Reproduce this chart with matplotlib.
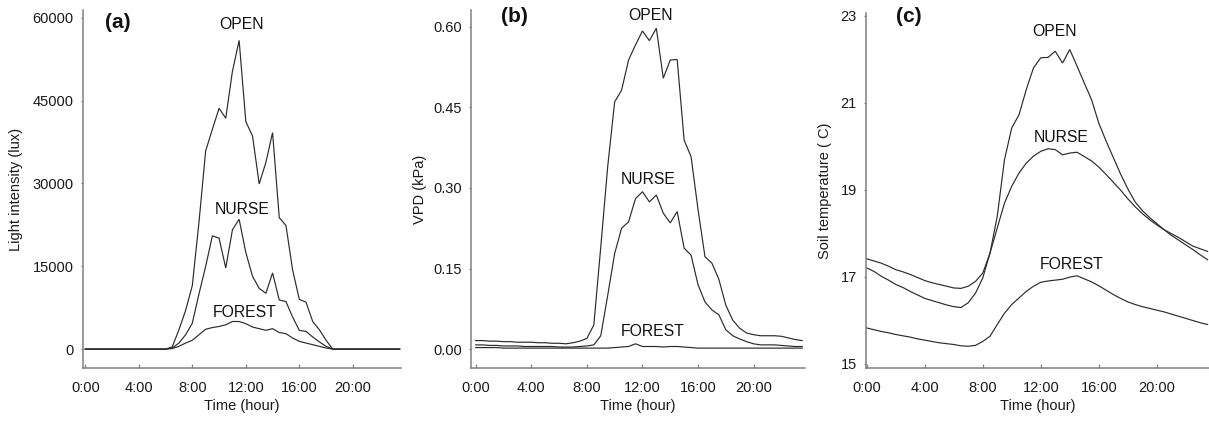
import matplotlib
matplotlib.use("Agg")
import matplotlib.pyplot as plt
import numpy as np

plt.rcParams['font.family'] = ['Liberation Sans', 'DejaVu Sans']

# time of day (hours), half-hour steps
hours = np.arange(0, 24, 0.5)
xtick_pos = [0, 4, 8, 12, 16, 20]
xtick_labels = ["0:00", "4:00", "8:00", "12:00", "16:00", "20:00"]

# (a) light intensity (lux)
light_open = [0, 0, 0, 0, 0, 0, 0, 0, 0, 0, 0, 0, 0,
              400, 3500, 7000, 11500, 23000, 35900, 39800, 43600, 41800, 50300, 55900,
              41200, 38600, 29900, 33800, 39200, 23800, 22400, 14300, 9000, 8500,
              5000, 3500, 1600, 0,
              0, 0, 0, 0, 0, 0, 0, 0, 0, 0]
light_nurse = [0, 0, 0, 0, 0, 0, 0, 0, 0, 0, 0, 0, 0,
               200, 1100, 2600, 4700, 10000, 15000, 20500, 20100, 14700, 21600, 23500,
               17500, 13200, 11000, 10100, 13800, 8900, 8600, 5800, 3400, 3200,
               2200, 1300, 500, 0,
               0, 0, 0, 0, 0, 0, 0, 0, 0, 0]
light_forest = [0, 0, 0, 0, 0, 0, 0, 0, 0, 0, 0, 0, 0,
                100, 500, 1100, 1600, 2600, 3600, 3900, 4100, 4400, 5000, 5000,
                4600, 4000, 3700, 3400, 3700, 3000, 2800, 2000, 1400, 1100,
                800, 500, 200, 0,
                0, 0, 0, 0, 0, 0, 0, 0, 0, 0]
light_ticks = [0, 15000, 30000, 45000, 60000]

# (b) VPD (kPa)
vpd_open = [0.016, 0.016, 0.015, 0.015, 0.014, 0.014, 0.013, 0.013, 0.013, 0.012,
            0.012, 0.011, 0.011, 0.010, 0.012, 0.015, 0.020, 0.045, 0.19, 0.34,
            0.46, 0.482, 0.538, 0.566, 0.592, 0.574, 0.597, 0.504, 0.538, 0.539,
            0.389, 0.358, 0.26, 0.172, 0.160, 0.130, 0.082, 0.054, 0.039, 0.030,
            0.027, 0.025, 0.025, 0.025, 0.024, 0.021, 0.018, 0.016]
vpd_nurse = [0.008, 0.008, 0.007, 0.007, 0.006, 0.006, 0.006, 0.005, 0.005, 0.005,
             0.005, 0.005, 0.004, 0.004, 0.004, 0.005, 0.006, 0.008, 0.025, 0.10,
             0.178, 0.225, 0.237, 0.280, 0.293, 0.274, 0.287, 0.253, 0.235, 0.256,
             0.188, 0.175, 0.120, 0.088, 0.073, 0.064, 0.036, 0.025, 0.019, 0.014,
             0.010, 0.008, 0.008, 0.008, 0.007, 0.006, 0.005, 0.005]
vpd_forest = [0.003, 0.003, 0.003, 0.003, 0.002, 0.002, 0.002, 0.002, 0.002, 0.002,
              0.002, 0.002, 0.002, 0.002, 0.002, 0.002, 0.002, 0.002, 0.002, 0.002,
              0.003, 0.004, 0.005, 0.010, 0.005, 0.005, 0.005, 0.004, 0.005, 0.005,
              0.004, 0.003, 0.002, 0.002, 0.002, 0.002, 0.002, 0.002, 0.002, 0.002,
              0.002, 0.002, 0.002, 0.002, 0.002, 0.002, 0.002, 0.002]
vpd_ticks = [0.00, 0.15, 0.30, 0.45, 0.60]

# (c) soil temperature
soil_open = [17.41, 17.36, 17.31, 17.24, 17.16, 17.11, 17.05, 16.98, 16.91, 16.86,
             16.82, 16.78, 16.74, 16.73, 16.78, 16.89, 17.08, 17.54, 18.39, 19.69,
             20.42, 20.72, 21.30, 21.80, 22.03, 22.04, 22.18, 21.91, 22.22, 21.84,
             21.45, 21.07, 20.53, 20.12, 19.74, 19.36, 19.02, 18.72, 18.52, 18.36,
             18.22, 18.08, 17.95, 17.84, 17.73, 17.62, 17.50, 17.39]
soil_nurse = [17.20, 17.12, 17.01, 16.92, 16.82, 16.75, 16.66, 16.58, 16.50, 16.45,
              16.40, 16.35, 16.31, 16.29, 16.40, 16.62, 16.97, 17.54, 18.12, 18.69,
              19.08, 19.38, 19.61, 19.77, 19.88, 19.94, 19.92, 19.80, 19.84, 19.86,
              19.76, 19.66, 19.52, 19.35, 19.17, 18.99, 18.79, 18.61, 18.45, 18.31,
              18.19, 18.08, 17.99, 17.90, 17.80, 17.70, 17.64, 17.58]
soil_forest = [15.82, 15.78, 15.74, 15.71, 15.67, 15.64, 15.61, 15.57, 15.54, 15.51,
               15.48, 15.46, 15.44, 15.41, 15.40, 15.42, 15.51, 15.63, 15.90, 16.16,
               16.36, 16.51, 16.66, 16.78, 16.87, 16.90, 16.92, 16.94, 16.99, 17.02,
               16.95, 16.88, 16.79, 16.69, 16.59, 16.50, 16.42, 16.36, 16.31, 16.27,
               16.23, 16.19, 16.14, 16.09, 16.04, 15.99, 15.94, 15.90]
soil_ticks = [15, 17, 19, 21, 23]

series_names = ["OPEN", "NURSE", "FOREST"]

LINE = "#2b2b2b"
SPINE = "#808080"

fig = plt.figure(figsize=(12.09, 4.21), dpi=100)
W, H = 1209, 421


def make_ax(left_px, right_px, top_px, bottom_px):
    return fig.add_axes([left_px / W, 1 - bottom_px / H,
                         (right_px - left_px) / W, (bottom_px - top_px) / H])


axes_specs = [
    dict(box=(83, 401, 10, 368), xlim=(-0.17, 23.6), ylim=(-3420, 61400),
         data=(light_open, light_nurse, light_forest), yticks=light_ticks,
         yticklabels=[str(t) for t in light_ticks], ylabel="Light intensity (lux)",
         letter="(a)", letter_xy=(118, 23),
         label_xy=[(11.7, 58800), (11.7, 25300), (11.9, 6700)], ylabel_right=23),
    dict(box=(471, 805, 10, 368), xlim=(-0.34, 23.7), ylim=(-0.035, 0.631),
         data=(vpd_open, vpd_nurse, vpd_forest), yticks=vpd_ticks,
         yticklabels=["%.2f" % t for t in vpd_ticks], ylabel="VPD (kPa)",
         letter="(b)", letter_xy=(514, 17),
         label_xy=[(12.56, 0.620), (12.4, 0.315), (12.7, 0.032)], ylabel_right=427),
    dict(box=(866, 1209, 13, 368), xlim=(-0.05, 23.6), ylim=(14.9, 23.06),
         data=(soil_open, soil_nurse, soil_forest), yticks=soil_ticks,
         yticklabels=[str(t) for t in soil_ticks], ylabel="Soil temperature ( C)",
         letter="(c)", letter_xy=(909, 16),
         label_xy=[(12.98, 22.63), (13.4, 20.2), (14.1, 17.28)], ylabel_right=832),
]

for spec in axes_specs:
    left, right, top, bottom = spec["box"]
    ax = make_ax(left, right, top, bottom)
    for ys in spec["data"]:
        ax.plot(hours, ys, color=LINE, lw=0.85, solid_joinstyle="miter")
    ax.set_xlim(*spec["xlim"])
    ax.set_ylim(*spec["ylim"])
    for s in ("top", "right"):
        ax.spines[s].set_visible(False)
    for s in ("left", "bottom"):
        ax.spines[s].set_color(SPINE)
        ax.spines[s].set_linewidth(1.1)
    ax.set_xticks(xtick_pos)
    ax.set_xticklabels(xtick_labels)
    ax.set_yticks(spec["yticks"])
    ax.set_yticklabels(spec["yticklabels"])
    ax.tick_params(axis="x", direction="in", length=3, width=0.9, color=SPINE,
                   pad=9.5, labelsize=10.5, labelcolor="#1a1a1a")
    ax.tick_params(axis="y", direction="out", length=1.8, width=0.9, color=SPINE,
                   pad=4.8, labelsize=10.5, labelcolor="#1a1a1a")
    ax.set_xlabel("Time (hour)", fontsize=10.5, color="#1a1a1a")
    ax.xaxis.set_label_coords(0.5, (bottom - 399) / (bottom - top))
    ax.set_ylabel(spec["ylabel"], fontsize=10.5, color="#1a1a1a")
    ax.yaxis.set_label_coords((spec["ylabel_right"] - left) / (right - left), 0.5)
    ax.patch.set_alpha(0)
    for name, (lx, ly) in zip(series_names, spec["label_xy"]):
        ax.text(lx, ly, name, ha="center", va="center", fontsize=11.3, color="#111111")
    fig.text(spec["letter_xy"][0] / W, 1 - spec["letter_xy"][1] / H, spec["letter"],
             ha="center", va="center", fontsize=15, fontweight="bold", color="#111111")

fig.savefig("out.png", dpi=100)
